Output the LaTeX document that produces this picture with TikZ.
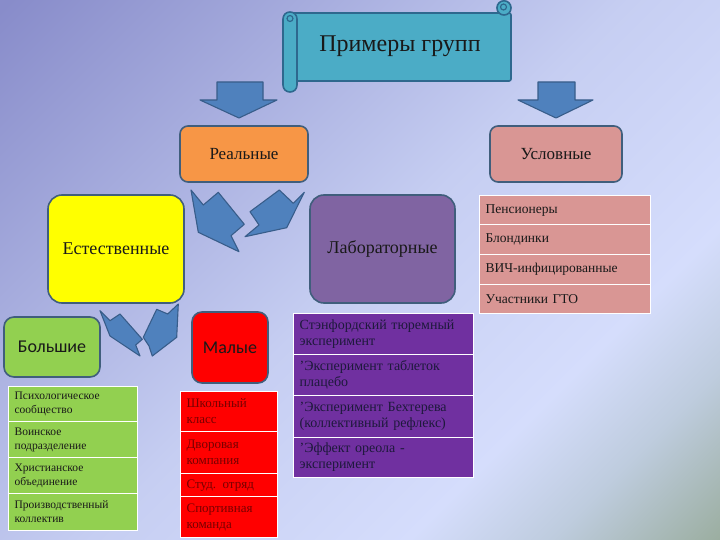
\documentclass[tikz,border=0pt]{standalone}
\usepackage{fontspec}
\setmainfont{Liberation Serif}
\newfontfamily\calib{Carlito}
\definecolor{bgA}{RGB}{136,140,202}
\definecolor{bgM}{RGB}{198,206,242}
\definecolor{bgB}{RGB}{213,221,252}
\definecolor{bgG}{RGB}{190,204,222}
\definecolor{bgC}{RGB}{146,166,144}
\definecolor{scrollfill}{RGB}{75,172,198}
\definecolor{scrollline}{RGB}{46,104,142}
\definecolor{boxline}{RGB}{64,94,124}
\definecolor{arrfill}{RGB}{79,129,189}
\definecolor{arrline}{RGB}{56,93,138}
\definecolor{cOrange}{RGB}{247,150,70}
\definecolor{cPink}{RGB}{217,150,148}
\definecolor{cYellow}{RGB}{255,255,0}
\definecolor{cLilac}{RGB}{128,100,162}
\definecolor{cGreen}{RGB}{146,208,80}
\definecolor{cRed}{RGB}{255,0,0}
\definecolor{cPurple}{RGB}{112,48,160}
\definecolor{txtDark}{RGB}{25,25,25}
\definecolor{txtRed}{RGB}{120,0,0}
\definecolor{txtPurple}{RGB}{30,25,60}
\pgfdeclarehorizontalshading{bgsh}{100bp}{color(0bp)=(bgA); color(15bp)=(bgA); color(50bp)=(bgM); color(68bp)=(bgB); color(76bp)=(bgG); color(88bp)=(bgC); color(100bp)=(bgC)}
\tikzset{
  rbox/.style={draw=boxline, line width=1.6pt, inner sep=0pt, text=txtDark},
  blockarrow/.style={fill=arrfill, draw=arrline, line width=1.1pt, line join=round},
  scrollst/.style={fill=scrollfill, draw=scrollline, line width=1.6pt},
  cell/.style={draw=white, line width=1.2pt, anchor=north west, inner xsep=6pt, inner ysep=0pt, align=left},
  gcell/.style={cell, fill=cGreen, text=txtDark, minimum width=129pt, text width=117pt, font=\fontsize{11.5}{14}\selectfont},
  redcell/.style={cell, fill=cRed, text=txtRed, minimum width=97pt, text width=85pt, font=\fontsize{13}{16}\selectfont},
  pcell/.style={cell, fill=cPurple, text=txtPurple, minimum width=180pt, text width=168pt, font=\fontsize{14}{16}\selectfont},
  pkcell/.style={cell, fill=cPink, text=txtDark, minimum width=171pt, text width=159pt, font=\fontsize{13.5}{16}\selectfont}
}
\begin{document}
\begin{tikzpicture}[x=1pt,y=-1pt]
\useasboundingbox (0,0) rectangle (720,540);
\shade[shading=bgsh, shading angle=-45] (0,0) rectangle (720,540);

% scroll title
\draw[scrollst, rounded corners=2pt] (290,13) -- (511,13) -- (511,81) -- (290,81) -- cycle;
\draw[scrollst, rounded corners=6.9pt] (497,0.8) rectangle (511,15);
\draw[scrollline, line width=1.2pt] (503.5,7) circle (3);
\draw[scrollst, rounded corners=6.9pt] (283,12) rectangle (297,92);
\draw[scrollline, line width=1.2pt] (290,18.5) circle (3);
\node[text=txtDark, font=\fontsize{24}{28}\selectfont] (title) at (400,46) {Примеры групп};

% down arrows
\draw[blockarrow] (217,82) -- (263,82) -- (263,100) -- (277,100) -- (239,118) -- (200,100) -- (217,100) -- cycle;
\draw[blockarrow] (538,82) -- (575,82) -- (575,100) -- (593,100) -- (556,118) -- (518,100) -- (538,100) -- cycle;

% level 1
\node[rbox, fill=cOrange, rounded corners=8pt, minimum width=128pt, minimum height=56pt, font=\fontsize{17}{20}\selectfont] (real) at (244,154) {Реальные};
\node[rbox, fill=cPink, rounded corners=8pt, minimum width=132pt, minimum height=56pt, font=\fontsize{17}{20}\selectfont] (usl) at (556,154) {Условные};

% notched arrows under Реальные
\draw[blockarrow] (191,190) -- (203.3,205) -- (218.3,192.3) -- (244.3,224.3) -- (231,235.7) -- (239,251.7) -- (198.3,232.3) -- cycle;
\draw[blockarrow] (279.3,190) -- (293.3,203.3) -- (304.3,192.3) -- (286.7,227.7) -- (245,236.7) -- (259,225) -- (250,211.7) -- cycle;

% level 2
\node[rbox, fill=cYellow, rounded corners=14pt, minimum width=136pt, minimum height=108pt, font=\fontsize{18}{21}\selectfont] (est) at (116,249) {Естественные};
\node[rbox, fill=cLilac, rounded corners=14pt, minimum width=145pt, minimum height=108pt, font=\fontsize{18}{21}\selectfont] (lab) at (382.5,249) {Лабораторные};

% notched arrows under Естественные
\draw[blockarrow] (100,310.7) -- (110,320.7) -- (120,314) -- (142.3,339.3) -- (135.7,345) -- (140,356) -- (110,336) -- cycle;
\draw[blockarrow] (156.7,309.3) -- (167.7,314) -- (178.3,304) -- (176.7,337.3) -- (152.3,356) -- (149,346) -- (143.3,337.3) -- cycle;

% level 3
\node[rbox, fill=cGreen, rounded corners=10pt, minimum width=96pt, minimum height=60pt, font=\calib\fontsize{18}{22}\selectfont] (big) at (52,347) {Большие};
\node[rbox, fill=cRed, rounded corners=10pt, minimum width=76pt, minimum height=71pt, font=\calib\fontsize{18}{22}\selectfont] (small) at (230,347.5) {Малые};

% pink list
\node[pkcell, minimum height=29pt] (u1) at (479,195) {Пенсионеры};
\node[pkcell, minimum height=30pt] (u2) at (479,224) {Блондинки};
\node[pkcell, minimum height=30pt] (u3) at (479,254) {ВИЧ-инфицированные};
\node[pkcell, minimum height=29pt] (u4) at (479,284) {Участники ГТО};

% purple list
\node[pcell, minimum height=41pt] (l1) at (293,313) {Стэнфордский тюремный\\эксперимент};
\node[pcell, minimum height=41pt] (l2) at (293,354) {’Эксперимент таблеток\\плацебо};
\node[pcell, minimum height=42pt] (l3) at (293,395) {’Эксперимент Бехтерева\\(коллективный рефлекс)};
\node[pcell, minimum height=40pt] (l4) at (293,437) {’Эффект ореола -\\эксперимент};

% green list
\node[gcell, minimum height=35pt] (b1) at (8,386) {Психологическое\\сообщество};
\node[gcell, minimum height=36pt] (b2) at (8,421) {Воинское\\подразделение};
\node[gcell, minimum height=36pt] (b3) at (8,457) {Христианское\\объединение};
\node[gcell, minimum height=37pt] (b4) at (8,493) {Производственный\\коллектив};

% red list
\node[redcell, minimum height=40pt] (s1) at (180,391) {Школьный\\класс};
\node[redcell, minimum height=42pt] (s2) at (180,431) {Дворовая\\компания};
\node[redcell, minimum height=23pt] (s3) at (180,473) {Студ. отряд};
\node[redcell, minimum height=41pt] (s4) at (180,496) {Спортивная\\команда};
\end{tikzpicture}
\end{document}
